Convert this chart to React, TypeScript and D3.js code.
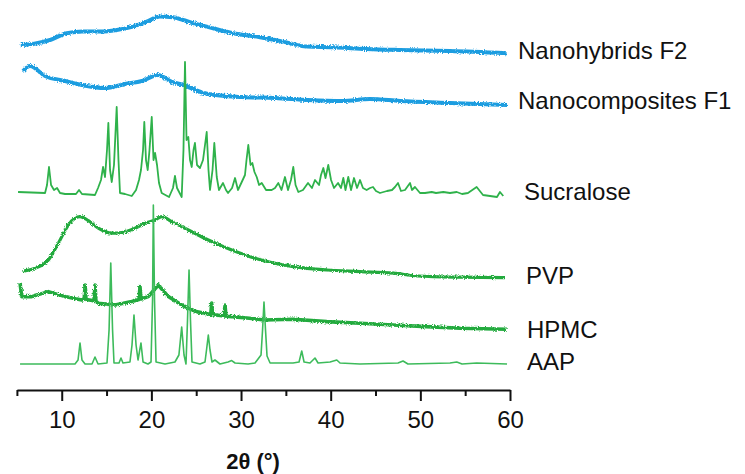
import React, { useRef, useEffect } from "react";
import * as d3 from "d3";

// stacked XRD patterns: [2θ (deg), offset intensity (a.u.)]
const f2Pattern = [
	[5.43, 172.5], [6.8, 173], [8.7, 175], [10.56, 178.4], [12.38, 179.2], [14.27, 179.2],
	[16.13, 180], [17.95, 181.7], [19.48, 184.2], [20.96, 186.7], [22.41, 186.4], [23.53, 185],
	[24.64, 183.4], [26.17, 181.7], [29.11, 178.4], [32.12, 176.4], [34.68, 174.2], [37.33, 171.7],
	[40.26, 171.4], [44.02, 170.5], [47.73, 170], [53.31, 169.5], [59.63, 168.4]
];

const f1Pattern = [
	[5.68, 159.5], [6.46, 162], [8.14, 157], [10.37, 154.5], [12.26, 152.5], [14.83, 151],
	[17.06, 153], [18.96, 154.5], [20.74, 157.5], [22.3, 154], [23.19, 153], [26.32, 148],
	[30.11, 146.5], [33.79, 146], [37.47, 145], [41.26, 144.5], [44.38, 145.5], [47.73, 144.5],
	[53.31, 143.5], [59.67, 142.5]
];

const sucralosePattern = [
	[5.13, 99], [8.14, 98.5], [8.36, 102.5], [8.58, 111.5], [8.81, 102.5], [9.14, 100], [9.48, 101],
	[9.81, 98.5], [10.37, 98], [11.59, 98], [11.93, 100], [12.26, 98], [13.71, 97.5], [14.05, 101],
	[14.38, 105], [14.61, 111.5], [14.83, 106.5], [15.05, 120], [15.2, 133.5], [15.39, 110],
	[15.58, 104], [15.83, 112.5], [16.13, 141.5], [16.33, 115], [16.5, 98.5], [17.06, 98],
	[17.81, 97], [18.29, 100], [18.62, 105], [18.84, 110], [19.07, 120], [19.21, 134], [19.4, 115],
	[19.59, 110], [19.79, 120], [20.04, 136.5], [20.24, 115], [20.41, 118.5], [20.63, 112.5],
	[20.85, 103.5], [21.15, 98.5], [21.97, 96.5], [22.41, 101], [22.63, 107], [22.86, 101],
	[23.38, 96.5], [23.58, 120], [23.75, 164], [23.92, 125], [24.12, 126.5], [24.31, 115],
	[24.5, 111.5], [24.7, 120], [24.86, 123.5], [25.09, 112.5], [25.42, 111], [25.76, 115],
	[25.98, 122.5], [26.17, 129], [26.37, 110], [26.54, 100], [26.82, 110], [27.02, 123.5],
	[27.29, 106.5], [27.54, 100], [27.99, 103.5], [28.32, 100], [28.55, 98.5], [29.0, 101],
	[29.33, 106], [29.66, 100], [30.08, 104], [30.44, 107.5], [30.61, 115], [30.81, 122.5],
	[31.06, 112.5], [31.26, 113.5], [31.5, 109], [31.75, 106.5], [32.01, 102.5], [32.31, 103.5],
	[32.79, 100], [33.42, 100], [33.79, 101], [34.16, 103.5], [34.51, 100], [34.9, 106.5],
	[35.24, 100], [35.57, 105], [35.83, 111.5], [36.08, 102.5], [36.39, 99], [36.91, 100],
	[37.47, 103.5], [37.91, 101], [38.25, 105], [38.7, 102.5], [38.92, 107.5], [39.18, 111],
	[39.42, 106], [39.73, 112.5], [40.04, 105], [40.37, 101], [40.82, 103.5], [41.15, 101],
	[41.41, 106], [41.65, 100], [41.96, 106.5], [42.27, 100], [42.6, 106], [42.94, 101],
	[43.27, 105], [43.6, 101], [44.01, 100], [44.39, 101], [44.72, 101.5], [45.05, 99.5],
	[45.5, 98.5], [46.28, 99.5], [46.84, 100], [47.17, 101.5], [47.51, 103.5], [47.84, 99.5],
	[48.29, 100], [48.85, 103.5], [49.07, 100], [49.4, 101.5], [49.96, 98.5], [50.52, 98.5],
	[51.27, 99], [51.75, 98.5], [52.56, 99], [53.31, 98.5], [54.06, 99], [54.65, 98],
	[55.31, 98.5], [56.28, 101.5], [56.99, 97.5], [57.77, 97], [58.55, 96.5], [58.88, 99],
	[59.25, 97]
];

const pvpPattern = [
	[5.72, 59.5], [7.02, 60.9], [8.51, 65], [9.62, 73.4], [10.74, 82.5], [11.48, 85.9],
	[12.04, 86.7], [12.97, 84.7], [14.08, 80.9], [15.58, 78.4], [16.69, 78.7], [18.18, 80.9],
	[19.29, 83.4], [20.41, 85], [21.15, 86.7], [22.27, 84.2], [24.12, 80], [26.35, 75],
	[28.96, 70], [31.56, 65.9], [35.83, 61.7], [39.56, 60], [43.27, 59.2], [46.98, 58.4],
	[49.71, 57], [54.42, 56.4], [59.44, 56.2]
];

const hpmcPattern = [
	[5.35, 53.5], [5.54, 46.7], [6.65, 46.7], [8.51, 49.2], [10.37, 46.7], [12.23, 45],
	[12.5, 45.5], [12.61, 52.5], [12.72, 45.3], [13.6, 44.6], [13.71, 52.5], [13.82, 44.3],
	[14.08, 43.4], [15.94, 42.5], [17.81, 44.2], [18.62, 45.2], [18.73, 51.7], [18.84, 45.5],
	[19.66, 46.7], [20.77, 52.5], [21.89, 46.7], [23.38, 42.5], [24.99, 39.2], [26.62, 37.8],
	[26.73, 43.5], [26.84, 37.6], [27.22, 37.5], [28.1, 37], [28.21, 42.5], [28.32, 36.9],
	[28.96, 36.7], [30.93, 35.9], [32.56, 35], [35.83, 35.4], [39.56, 34.2], [43.27, 33.4],
	[46.98, 32.5], [50.68, 31.7], [54.42, 30.9], [59.63, 30.4]
];

const aapPattern = [
	[5.35, 13], [11.48, 13], [11.82, 15], [12.04, 23.5], [12.26, 15], [12.6, 13], [13.38, 13],
	[13.71, 16.5], [14.05, 13], [15.05, 13.5], [15.28, 30], [15.47, 63.5], [15.67, 30],
	[15.83, 13.5], [16.39, 13.5], [16.61, 16], [16.83, 13.5], [17.61, 14], [17.84, 22.5],
	[18.06, 37.5], [18.29, 22.5], [18.51, 15], [18.84, 23.5], [19.07, 14], [19.62, 13],
	[19.96, 14], [20.13, 45], [20.22, 92.5], [20.35, 45], [20.52, 14], [21.52, 13], [22.63, 14],
	[23.07, 17.5], [23.38, 31.5], [23.64, 17.5], [23.86, 13], [24.03, 35], [24.2, 60],
	[24.36, 35], [24.53, 14], [25.42, 13], [25.98, 14], [26.15, 20], [26.35, 27.5], [26.54, 20],
	[26.76, 14], [27.09, 15], [27.65, 13], [28.55, 14], [28.96, 14.7], [29.33, 13.5],
	[30.78, 13], [31.56, 13.5], [32.23, 17.5], [32.4, 30], [32.56, 44], [32.73, 30], [32.9, 17],
	[33.24, 13.5], [35.8, 13.5], [36.47, 14], [36.77, 19.5], [37.03, 14], [37.69, 13.5],
	[38.25, 16], [38.59, 13.5], [39.93, 14], [40.68, 15], [41.04, 13.5], [43.27, 13],
	[47.51, 13.5], [48.07, 14.5], [48.62, 13], [53.31, 13.5], [54.06, 14], [54.65, 13],
	[56.28, 13.5], [59.67, 13]
];

const seriesNames = ["Nanohybrids F2", "Nanocomposites F1", "Sucralose", "PVP", "HPMC", "AAP"];
const xTicks = [10, 20, 30, 40, 50, 60];
const xMinorTicks = [5, 15, 25, 35, 45, 55];

export default function App() {

	const refChart = useRef(null);

	let layout = {"width": 745,
				  "height": 474,
				  "left": 16.9,
				  "right": 510,
				  "axisY": 390};

	let font = "'Liberation Sans', Arial, sans-serif";

	let series = [
		{"name": seriesNames[0], "data": f2Pattern, "color": "#1c9de0", "width": 4, "noisy": true, "curve": d3.curveMonotoneX, "labelX": 518, "labelDy": 6},
		{"name": seriesNames[1], "data": f1Pattern, "color": "#1c9de0", "width": 4, "noisy": true, "curve": d3.curveMonotoneX, "labelX": 518, "labelDy": 3.5},
		{"name": seriesNames[2], "data": sucralosePattern, "color": "#2fb24b", "width": 1.8, "noisy": false, "curve": d3.curveLinear, "labelX": 524, "labelDy": 3.5},
		{"name": seriesNames[3], "data": pvpPattern, "color": "#22aa3e", "width": 3.2, "noisy": true, "curve": d3.curveMonotoneX, "labelX": 526, "labelDy": 6},
		{"name": seriesNames[4], "data": hpmcPattern, "color": "#22aa3e", "width": 3.6, "noisy": true, "curve": d3.curveLinear, "labelX": 527, "labelDy": 8.5},
		{"name": seriesNames[5], "data": aapPattern, "color": "#3dbb5b", "width": 1.6, "noisy": false, "curve": d3.curveLinear, "labelX": 527, "labelDy": 6}
	];

	useEffect(() => {

		let svg = d3.select(refChart.current)
					.attr("width", layout.width)
					.attr("height", layout.height);

		let xScale = d3.scaleLinear()
						.domain([5, 60])
						.range([layout.left, layout.right]);

		let yScale = d3.scaleLinear()
						.domain([0, 195])
						.range([layout.axisY, 0]);

		svg.select("#traces")
			.selectAll(".trace")
			.data(series)
			.join("path")
			.attr("class", "trace")
			.attr("fill", "none")
			.attr("stroke", d => d.color)
			.attr("stroke-width", d => d.width)
			.attr("stroke-linejoin", "round")
			.attr("filter", d => d.noisy ? "url(#grain)" : null)
			.attr("d", d => d3.line().x(p => xScale(p[0])).y(p => yScale(p[1])).curve(d.curve)(d.data));

		svg.select("#labels")
			.selectAll(".label")
			.data(series)
			.join("text")
			.attr("class", "label")
			.attr("x", d => d.labelX)
			.attr("y", d => yScale(d.data[d.data.length - 1][1]) + d.labelDy)
			.attr("font-family", font)
			.attr("font-size", 24)
			.attr("fill", "#111")
			.text(d => d.name);

		let xAxis = svg.select("#xAxis")
						.attr("transform", `translate(0, ${layout.axisY})`)
						.call(d3.axisBottom(xScale).tickValues(xTicks).tickSize(11).tickSizeOuter(0).tickPadding(10));

		xAxis.select(".domain").attr("stroke", "#111").attr("stroke-width", 2);
		xAxis.selectAll(".tick line").attr("stroke", "#111").attr("stroke-width", 2);
		xAxis.selectAll(".tick text")
			.attr("font-family", font)
			.attr("font-size", 24)
			.attr("fill", "#111");

		let xMinor = svg.select("#xMinor")
						.attr("transform", `translate(0, ${layout.axisY})`)
						.call(d3.axisBottom(xScale).tickValues(xMinorTicks).tickSize(6).tickSizeOuter(0).tickFormat(() => ""));

		xMinor.select(".domain").remove();
		xMinor.selectAll(".tick line").attr("stroke", "#111").attr("stroke-width", 2);

		svg.select("#title")
			.attr("x", 253)
			.attr("y", 469)
			.attr("text-anchor", "middle")
			.attr("font-family", font)
			.attr("font-weight", "bold")
			.attr("font-size", 22)
			.attr("fill", "#111");

	}, []);

	return (
		<div>
			<svg ref={refChart} style={{position: "absolute", left: 0, top: 0, background: "#fff"}}>
				<defs>
					<filter id="grain" x="-5%" y="-20%" width="110%" height="140%">
						<feTurbulence type="fractalNoise" baseFrequency="0.9" numOctaves="1" seed="3" result="n" />
						<feDisplacementMap in="SourceGraphic" in2="n" scale="4" xChannelSelector="R" yChannelSelector="G" />
					</filter>
				</defs>
				<g id="traces" />
				<g id="labels" />
				<g id="xAxis" />
				<g id="xMinor" />
				<text id="title">2θ (°)</text>
			</svg>
		</div>
	)

}
